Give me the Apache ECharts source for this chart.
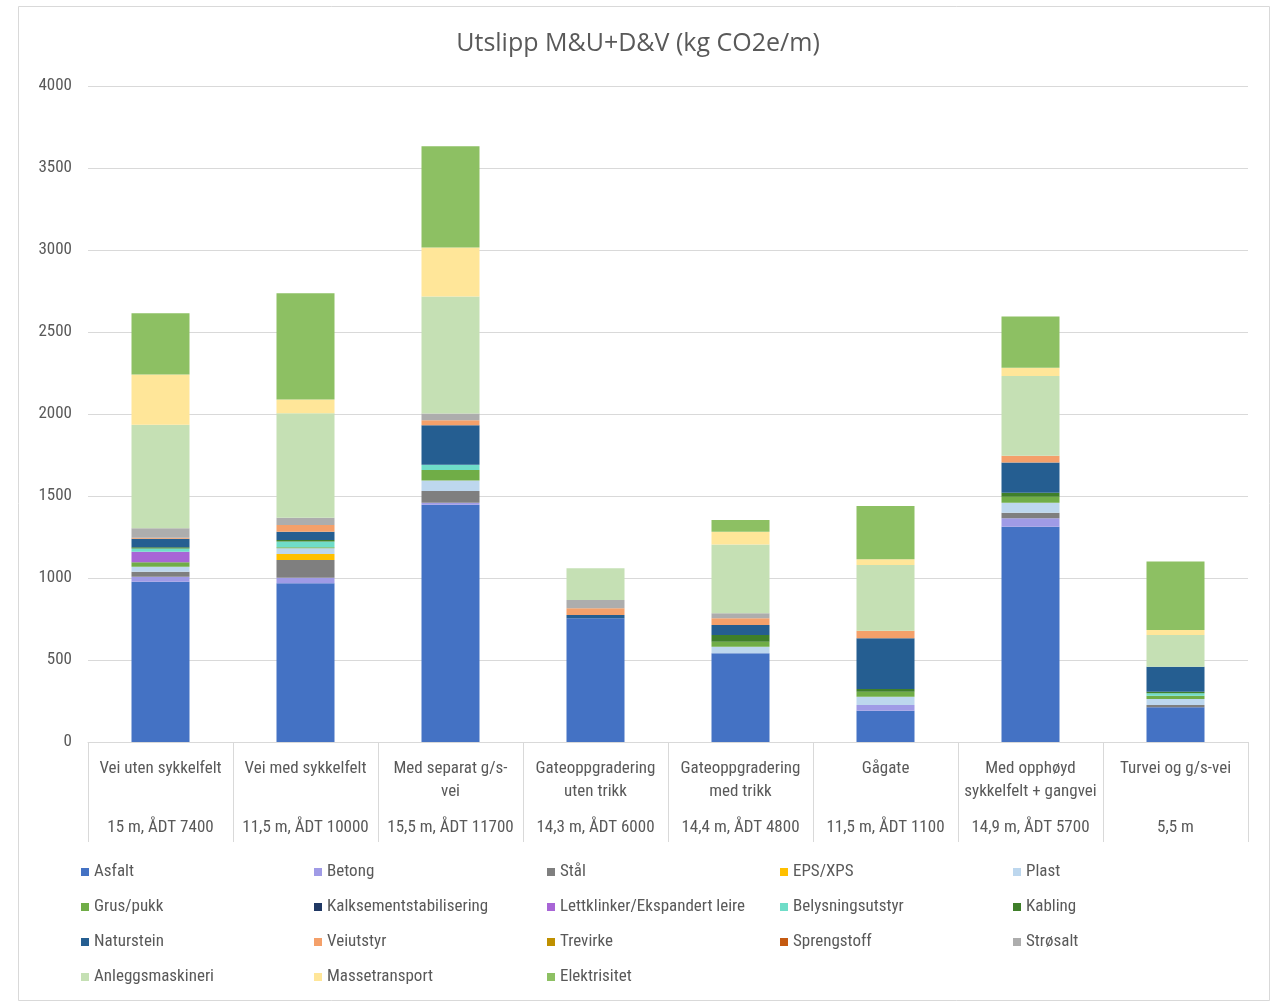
<!DOCTYPE html>
<html>
<head>
<meta charset="utf-8">
<script src="https://cdn.jsdelivr.net/npm/echarts@6/dist/echarts.min.js"></script>
<style>
html,body{margin:0;padding:0;background:#fff;}
#c{width:1276px;height:1003px;}
</style>
</head>
<body>
<div id="c"></div>
<script>
const categories = [
  "Vei uten sykkelfelt", "Vei med sykkelfelt", "Med separat g/s-\nvei",
  "Gateoppgradering\nuten trikk", "Gateoppgradering\nmed trikk", "Gågate",
  "Med opphøyd\nsykkelfelt + gangvei", "Turvei og g/s-vei"
];
const subCategories = [
  "15 m, ÅDT 7400", "11,5 m, ÅDT 10000", "15,5 m, ÅDT 11700", "14,3 m, ÅDT 6000",
  "14,4 m, ÅDT 4800", "11,5 m, ÅDT 1100", "14,9 m, ÅDT 5700", "5,5 m"
];
const seriesNames = [
  "Asfalt", "Betong", "Stål", "EPS/XPS", "Plast",
  "Grus/pukk", "Kalksementstabilisering", "Lettklinker/Ekspandert leire", "Belysningsutstyr", "Kabling",
  "Naturstein", "Veiutstyr", "Trevirke", "Sprengstoff", "Strøsalt",
  "Anleggsmaskineri", "Massetransport", "Elektrisitet"
];
const seriesColors = [
  "#4472C4", "#A09BE6", "#7F7F7F", "#FFC000", "#BDD7EE",
  "#70AD47", "#203864", "#A865D6", "#6FDDC8", "#3F7F2A",
  "#255E91", "#F4A06A", "#BF9000", "#C55A11", "#ADADAD",
  "#C5E0B4", "#FFE699", "#8DC063"
];
const asfalt        = [977, 968, 1447, 754, 541, 191, 1313, 212];
const betong        = [31, 34, 12, 0, 0, 35, 51, 0];
const staal         = [30, 108, 72, 0, 0, 0, 34, 14];
const eps           = [0, 36, 0, 0, 0, 0, 0, 0];
const plast         = [31, 36, 64, 0, 40, 50, 61, 36];
const grus          = [27, 5, 63, 0, 31, 31, 37, 20];
const kalksement    = [0, 0, 0, 0, 0, 0, 0, 0];
const lettklinker   = [64, 0, 0, 0, 0, 0, 0, 0];
const belysning     = [20, 35, 33, 0, 0, 0, 0, 15];
const kabling       = [7, 10, 0, 0, 40, 16, 24, 10];
const naturstein    = [52, 50, 240, 20, 61, 309, 185, 152];
const veiutstyr     = [6, 41, 31, 41, 41, 47, 41, 0];
const trevirke      = [0, 0, 0, 0, 0, 0, 0, 0];
const sprengstoff   = [0, 0, 0, 0, 0, 0, 0, 0];
const stroesalt     = [59, 45, 41, 51, 31, 0, 0, 0];
const anleggs       = [630, 636, 714, 193, 420, 400, 486, 193];
const massetransport= [307, 85, 299, 0, 77, 35, 50, 31];
const elektrisitet  = [374, 647, 616, 0, 72, 325, 312, 417];
const yTicks = [0, 500, 1000, 1500, 2000, 2500, 3000, 3500, 4000];

const seriesData = [asfalt, betong, staal, eps, plast, grus, kalksement, lettklinker, belysning,
  kabling, naturstein, veiutstyr, trevirke, sprengstoff, stroesalt, anleggs, massetransport, elektrisitet];

const FONT = "'Liberation Sans Narrow', 'Roboto Condensed', 'Noto Sans', sans-serif";
const chart = echarts.init(document.getElementById('c'));
chart.setOption({
  animation: false,
  backgroundColor: '#fff',
  textStyle: { fontFamily: FONT },
  title: {
    text: 'Utslipp M&U+D&V (kg CO2e/m)',
    left: 'center', top: 26,
    textStyle: { fontFamily: "'Open Sans', sans-serif", fontSize: 25, fontWeight: 'normal', color: '#595959' }
  },
  graphic: [{
    type: 'rect', shape: { x: 18.5, y: 6.5, width: 1251, height: 994 },
    style: { fill: 'none', stroke: '#d9d9d9', lineWidth: 1 }, silent: true
  }],
  grid: { left: 88, right: 28, top: 86, bottom: 261 },
  legend: {
    data: seriesNames,
    left: 76, top: 857, width: 1190,
    orient: 'horizontal',
    itemWidth: 8, itemHeight: 8, itemGap: 15,
    icon: 'rect',
    textStyle: { fontFamily: FONT, fontSize: 17, color: '#595959', width: 205, lineHeight: 20 }
  },
  xAxis: {
    type: 'category',
    data: categories.map((c, i) => i),
    axisLine: { lineStyle: { color: '#d9d9d9' } },
    axisTick: { show: true, length: 100, lineStyle: { color: '#d9d9d9' } },
    axisLabel: {
      interval: 0, margin: 15,
      formatter: function (v) {
        const i = +v;
        const parts = categories[i].split('\n');
        const l2 = parts.length > 1 ? parts[1] : ' ';
        return '{a|' + parts[0] + '}\n{a|' + l2 + '}\n{b|' + subCategories[i] + '}';
      },
      rich: {
        a: { fontFamily: FONT, fontSize: 17, color: '#595959', lineHeight: 23 },
        b: { fontFamily: FONT, fontSize: 17, color: '#595959', lineHeight: 50 }
      }
    }
  },
  yAxis: {
    type: 'value', min: yTicks[0], max: yTicks[yTicks.length - 1], interval: 500,
    axisLine: { show: false }, axisTick: { show: false },
    axisLabel: { fontFamily: FONT, fontSize: 17, color: '#595959', margin: 16, formatter: v => String(v) },
    splitLine: { lineStyle: { color: '#d9d9d9' } }
  },
  series: seriesNames.map((n, k) => ({
    name: n, type: 'bar', stack: 'total', barWidth: 58,
    itemStyle: { color: seriesColors[k] },
    data: seriesData[k]
  }))
});
</script>
</body>
</html>
